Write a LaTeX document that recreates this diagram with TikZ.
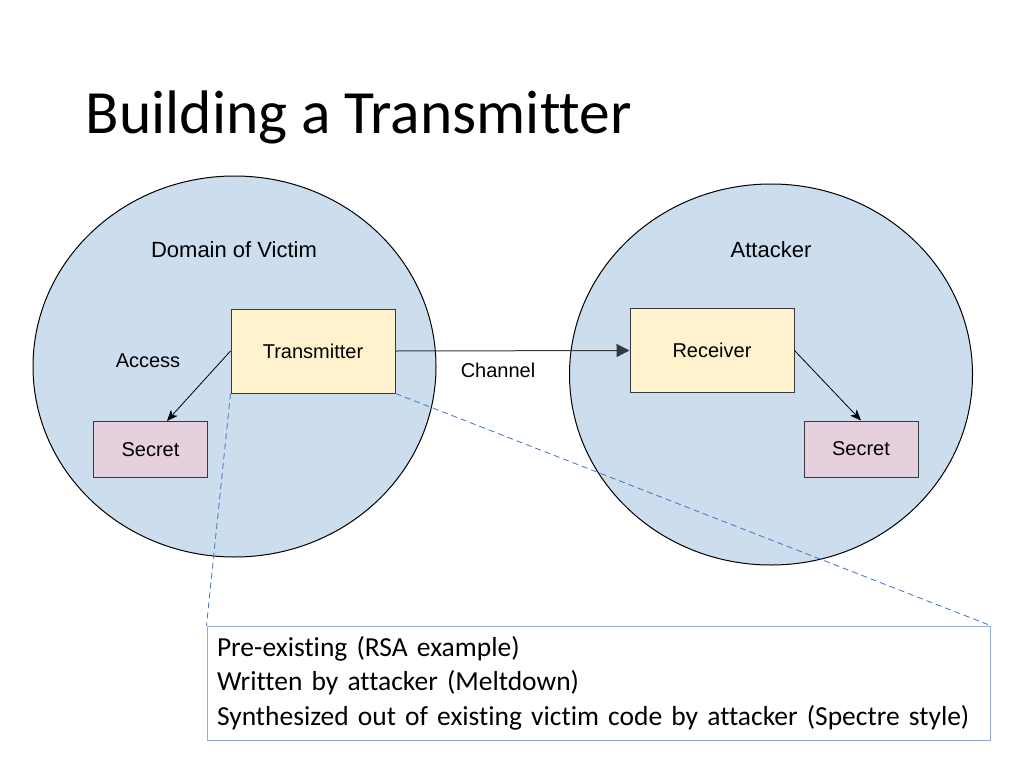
\documentclass[tikz,border=0pt]{standalone}
\usepackage{fontspec}
\setmainfont{Liberation Sans}
\newfontfamily\calibri[Ligatures={NoCommon}]{Carlito}
\usetikzlibrary{arrows.meta,positioning,shapes.geometric}
\definecolor{domfill}{HTML}{CCDDEE}
\definecolor{boxfill}{HTML}{FFF2CC}
\definecolor{secfill}{HTML}{E6D0DE}
\definecolor{edgegray}{HTML}{36393D}
\definecolor{dashblue}{HTML}{4472C4}
\definecolor{noteblue}{HTML}{8FAADC}
\begin{document}
\begin{tikzpicture}[x=1pt,y=-1pt,line width=1pt,
  domaincircle/.style={ellipse,draw=black,fill=domfill,inner sep=0pt,minimum width=403pt,minimum height=381pt},
  partbox/.style={rectangle,draw=edgegray,fill=boxfill,minimum width=164pt,minimum height=84pt,font=\fontsize{20}{24}\selectfont},
  secretbox/.style={rectangle,draw=edgegray,fill=secfill,minimum width=114pt,minimum height=56pt,font=\fontsize{20}{24}\selectfont},
  lbl/.style={font=\fontsize{20}{24}\selectfont},
  biglbl/.style={font=\fontsize{22}{26}\selectfont},
  flow/.style={-{Stealth[length=11pt,width=9pt,inset=3pt]},line width=0.8pt},
  zoomline/.style={dashed,dash pattern=on 6pt off 4pt,draw=dashblue,line width=0.8pt}]
\useasboundingbox[fill=white] (0,0) rectangle (1024,768);
\node[anchor=base west,font=\calibri\fontsize{61.5}{72}\selectfont] (title) at (82,133) {Building a Transmitter};
\node[domaincircle] (victim) at (234.5,366.5) {};
\node[domaincircle] (attacker) at (771,374.5) {};
\node[biglbl] (victimlbl) at (234,250) {Domain of Victim};
\node[biglbl] (attackerlbl) at (771,250) {Attacker};
\node[lbl] (access) at (148,361) {Access};
\node[partbox] (tx) at (313,351) {Transmitter};
\node[partbox] (rx) at (712,350.5) {Receiver};
\node[secretbox] (secretL) at (150.5,449.5) {Secret};
\node[secretbox] (secretR) at (861,449) {Secret};
\node[lbl] (channel) at (498,370) {Channel};
\node[rectangle,draw=noteblue,fill=white,minimum width=783pt,minimum height=114pt,inner xsep=10pt,
  text width=763pt,align=left,font=\calibri\fontsize{27.5}{34.5}\selectfont] (note) at (598.5,683)
  {Pre-existing (RSA example)\\Written by attacker (Meltdown)\\Synthesized out of existing victim code by attacker (Spectre style)};
\draw[zoomline] (tx.south west) -- (note.north west);
\draw[zoomline] (tx.south east) -- (note.north east);
\draw[draw=edgegray,-{Triangle[length=13pt,width=13pt]}] (tx.east) -- (rx.west);
\draw[flow] (tx.west) -- (secretL.60);
\draw[flow] (rx.east) -- (secretR.north);
\end{tikzpicture}
\end{document}
